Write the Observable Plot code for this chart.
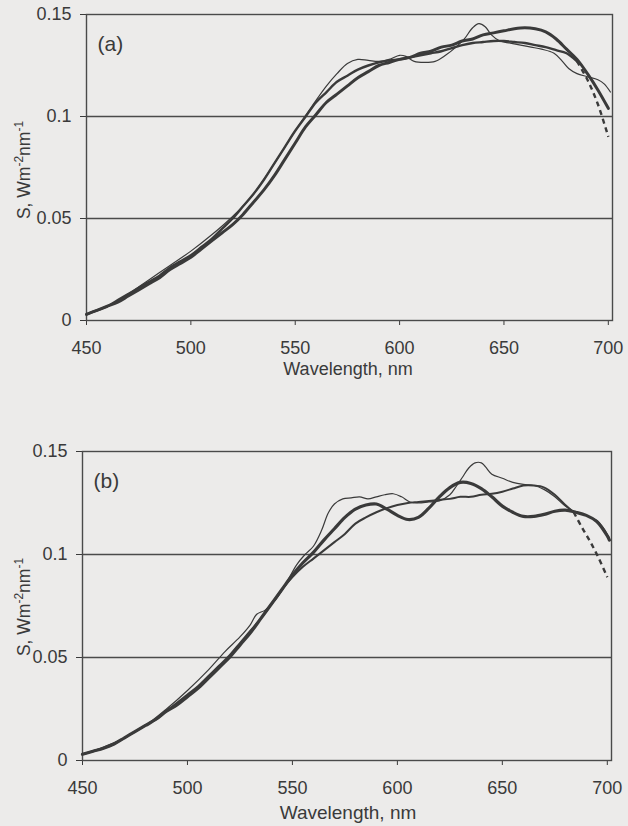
<!DOCTYPE html>
<html><head><meta charset="utf-8">
<script src="https://cdn.jsdelivr.net/npm/d3@7"></script>
<script src="https://cdn.jsdelivr.net/npm/@observablehq/plot@0.6"></script>
<style>
body{margin:0;background:#ecebea;}
#chart{width:628px;height:826px;}
svg{display:block;}
</style></head><body><div id="chart"></div>
<script>
// ---------- shared ticks ----------
const xTicks = [450, 500, 550, 600, 650, 700];
const yTicks = [0, 0.05, 0.1, 0.15];
const yTickLabels = ["0", "0.05", "0.1", "0.15"];
const xTitle = "Wavelength, nm";

// ---------- panel (a) ----------
const aWl = [450,455,460,465,470,475,480,485,490,495,500,505,510,515,520,525,530,535,540,545,550,555,560,565,570,575,580,585,590,595,600,605,610,615,620,625,630,635,640,645,650,655,660,665,670,675,680,685,690,695,700];
const aHump = [0.003,0.005,0.007,0.009,0.012,0.015,0.018,0.021,0.025,0.028,0.031,0.035,0.039,0.043,0.047,0.052,0.058,0.064,0.071,0.079,0.087,0.095,0.101,0.107,0.111,0.115,0.119,0.122,0.125,0.1265,0.128,0.129,0.131,0.132,0.134,0.135,0.137,0.138,0.140,0.141,0.142,0.143,0.1435,0.143,0.1415,0.138,0.133,0.128,0.121,0.113,0.104];
const aSmoothWl = [450,455,460,465,470,475,480,485,490,495,500,505,510,515,520,525,530,535,540,545,550,555,560,565,570,575,580,585,590,595,600,605,610,615,620,625,630,635,640,645,650,655,660,665,670,675,680,685];
const aSmooth = [0.003,0.005,0.007,0.010,0.013,0.016,0.019,0.022,0.026,0.029,0.032,0.036,0.040,0.045,0.050,0.056,0.062,0.069,0.077,0.085,0.093,0.100,0.107,0.112,0.117,0.120,0.123,0.125,0.1265,0.1275,0.128,0.129,0.130,0.131,0.132,0.1335,0.135,0.136,0.1365,0.137,0.137,0.1365,0.136,0.135,0.134,0.1325,0.131,0.127];
const aDashWl = [685,690,695,700];
const aDash = [0.127,0.118,0.106,0.090];
const aThinWl = [450,460,470,480,490,500,510,520,530,540,550,558,565,570,575,580,585,590,595,600,603,607,612,617,622,627,631,635,638,641,644,648,653,658,663,668,674,678,681,685,690,695,698,701];
const aThin = [0.003,0.007,0.013,0.020,0.027,0.034,0.042,0.051,0.062,0.077,0.093,0.105,0.115,0.121,0.126,0.128,0.1275,0.127,0.128,0.130,0.1295,0.127,0.1265,0.127,0.130,0.134,0.138,0.1435,0.1455,0.144,0.140,0.137,0.136,0.135,0.134,0.133,0.131,0.127,0.1235,0.121,0.1195,0.118,0.116,0.112];

// ---------- panel (b) ----------
const bWl = [450,455,460,465,470,475,480,485,490,495,500,505,510,515,520,525,530,535,540,545,550,555,560,565,570,575,580,585,590,595,600,605,610,615,620,625,630,635,640,645,650,655,660,665,670,675,680,685,690,695,700,701];
const bWavy = [0.003,0.0045,0.006,0.008,0.011,0.014,0.017,0.020,0.024,0.027,0.031,0.035,0.040,0.045,0.050,0.056,0.062,0.069,0.076,0.083,0.090,0.096,0.101,0.107,0.1125,0.118,0.122,0.124,0.1245,0.122,0.119,0.117,0.118,0.1225,0.128,0.1325,0.135,0.1345,0.132,0.128,0.1235,0.1205,0.1185,0.1185,0.1195,0.121,0.1215,0.1205,0.119,0.116,0.109,0.107];
const bSmoothWl = [450,455,460,465,470,475,480,485,490,495,500,505,510,515,520,525,530,535,540,545,550,555,560,565,570,575,580,585,590,595,600,605,610,615,620,625,630,635,640,645,650,655,660,665,670,675,680,684];
const bSmooth = [0.003,0.0045,0.006,0.008,0.011,0.014,0.017,0.020,0.024,0.028,0.032,0.036,0.041,0.046,0.051,0.057,0.063,0.069,0.076,0.083,0.089,0.094,0.098,0.102,0.106,0.110,0.115,0.118,0.1205,0.1225,0.124,0.125,0.1255,0.126,0.1265,0.127,0.128,0.128,0.129,0.1295,0.1305,0.132,0.1335,0.1335,0.1325,0.129,0.124,0.1205];
const bDashWl = [684,688,692,696,700];
const bDash = [0.1205,0.113,0.106,0.098,0.089];
const bThinWl = [450,460,470,480,490,500,510,518,525,530,533,537,542,547,552,556,560,564,567,570,574,578,582,586,590,594,598,602,606,610,615,620,625,628,631,634,637,640,642,645,650,655,660,665,670,675,680,685,690,695,698,701];
const bThin = [0.003,0.0065,0.011,0.017,0.025,0.034,0.044,0.053,0.060,0.066,0.071,0.073,0.078,0.086,0.095,0.100,0.104,0.112,0.120,0.1245,0.127,0.1275,0.128,0.127,0.128,0.129,0.1295,0.128,0.1255,0.125,0.1255,0.126,0.129,0.133,0.1375,0.142,0.1445,0.1445,0.1425,0.139,0.137,0.135,0.134,0.1335,0.1315,0.128,0.1235,0.1205,0.119,0.1165,0.113,0.108];

const ink = "#3a3a3a";
const font = "'Liberation Sans', Arial, sans-serif";
const pts = (xs, ys) => xs.map((x, i) => ({x, y: ys[i]}));

function panel(opts) {
  const {height, marginTop, marginBottom, marginLeft, marginRight, lines, tag, titleY, titleSize, ylabelY} = opts;
  const svg = Plot.plot({
    width: 628, height, marginTop, marginBottom, marginLeft, marginRight,
    style: {background: "transparent", fontFamily: font, fontSize: "18px", color: ink},
    x: {domain: [450, 702], ticks: xTicks, tickSize: 5, tickPadding: 16, label: null, tickFormat: d => String(d)},
    y: {domain: [0, 0.15], ticks: yTicks, tickSize: 6, tickPadding: 9, label: null, tickFormat: d => yTickLabels[yTicks.indexOf(d)]},
    marks: [
      Plot.ruleY([0.05, 0.1], {stroke: "#4a4a4a", strokeWidth: 1.3}),
      Plot.frame({stroke: "#4a4a4a", strokeWidth: 1.4}),
      ...lines.map(l => Plot.line(pts(l.x, l.y), {x: "x", y: "y", stroke: ink, strokeWidth: l.w, strokeDasharray: l.dash, curve: "catmull-rom", strokeLinecap: l.dash ? "butt" : "round"})),
      Plot.text([tag], {frameAnchor: "top-left", dx: 11, dy: 22, fontSize: 21, fill: ink, lineAnchor: "top"})
    ]
  });
  const s = d3.select(svg);
  s.append("text").attr("x", 348).attr("y", titleY).attr("text-anchor", "middle")
    .attr("font-size", titleSize).attr("fill", ink).attr("font-family", font).text(xTitle);
  const yl = s.append("text").attr("transform", `translate(30,${ylabelY}) rotate(-90)`).attr("text-anchor", "middle")
    .attr("font-size", 17.5).attr("fill", ink).attr("font-family", font);
  yl.append("tspan").text("S, Wm");
  yl.append("tspan").attr("font-size", 12).attr("dy", -7).text("-2");
  yl.append("tspan").attr("dy", 7).text("nm");
  yl.append("tspan").attr("font-size", 12).attr("dy", -7).text("-1");
  return svg;
}

const chart = document.getElementById("chart");
chart.append(panel({
  height: 390, marginTop: 14, marginBottom: 70, marginLeft: 86, marginRight: 16,
  tag: "(a)", titleY: 375, titleSize: 18, ylabelY: 170,
  lines: [
    {x: aThinWl, y: aThin, w: 1.2},
    {x: aSmoothWl, y: aSmooth, w: 2.4},
    {x: aDashWl, y: aDash, w: 2.4, dash: "5,4"},
    {x: aWl, y: aHump, w: 3}
  ]
}));
chart.append(panel({
  height: 436, marginTop: 61, marginBottom: 66, marginLeft: 82, marginRight: 17,
  tag: "(b)", titleY: 429, titleSize: 19, ylabelY: 217,
  lines: [
    {x: bThinWl, y: bThin, w: 1.2},
    {x: bSmoothWl, y: bSmooth, w: 2},
    {x: bDashWl, y: bDash, w: 2.4, dash: "5,4"},
    {x: bWl, y: bWavy, w: 3.2}
  ]
}));
</script></body></html>
